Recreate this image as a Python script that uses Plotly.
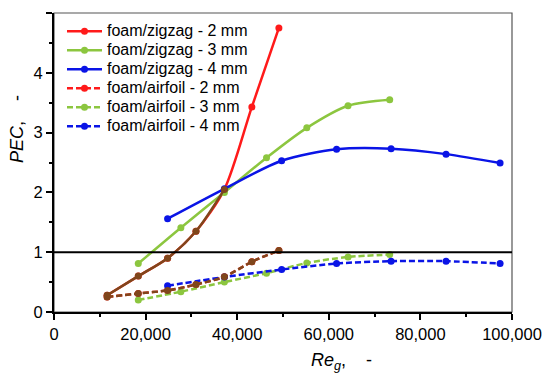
import plotly.graph_objects as go

# Data
re_2mm = [11600, 18400, 24800, 31000, 37200, 43200, 49100]
re_3mm = [18400, 27700, 37200, 46400, 55200, 64200, 73300]
re_4mm = [24800, 37200, 49700, 61700, 73600, 85600, 97400]

pec_zigzag_2mm = [0.28, 0.60, 0.90, 1.35, 2.05, 3.43, 4.75]
pec_zigzag_3mm = [0.81, 1.41, 2.00, 2.58, 3.08, 3.45, 3.55]
pec_zigzag_4mm = [1.56, 2.06, 2.53, 2.72, 2.73, 2.64, 2.49]
pec_airfoil_2mm = [0.25, 0.31, 0.36, 0.46, 0.59, 0.84, 1.03]
pec_airfoil_3mm = [0.20, 0.34, 0.50, 0.65, 0.82, 0.92, 0.96]
pec_airfoil_4mm = [0.44, 0.585, 0.71, 0.81, 0.85, 0.85, 0.81]

labels = ["foam/zigzag - 2 mm", "foam/zigzag - 3 mm", "foam/zigzag - 4 mm",
          "foam/airfoil - 2 mm", "foam/airfoil - 3 mm", "foam/airfoil - 4 mm"]

RED = "#ff1a1a"
GREEN = "#8cc63f"
BLUE = "#0a14e6"
BROWN = "#80461b"
DASH = "6px,3px"

# page offset (body margin of the html page)
OFF = 8
# desired plot-area edges in window pixels
PL, PR, PT, PB = 54, 512, 13, 312
W, H = 550, 378

fig = go.Figure()

series = [
    (re_2mm, pec_zigzag_2mm, RED, "solid"),
    (re_3mm, pec_zigzag_3mm, GREEN, "solid"),
    (re_4mm, pec_zigzag_4mm, BLUE, "solid"),
    (re_2mm, pec_airfoil_2mm, RED, DASH),
    (re_3mm, pec_airfoil_3mm, GREEN, DASH),
    (re_4mm, pec_airfoil_4mm, BLUE, DASH),
]

LW = 2.5
MS = 7
for (x, y, c, d), name in zip(series, labels):
    fig.add_trace(go.Scatter(
        x=x, y=y, name='<span style="font-size:16px">' + name + "</span>",
        mode="lines+markers",
        line=dict(color=c, width=LW, dash=d, shape="spline", smoothing=0.8),
        marker=dict(color=c, size=MS),
    ))

# brownish overlap appearance of the 2 mm series in the low region
fig.add_trace(go.Scatter(
    x=re_2mm[:5], y=pec_zigzag_2mm[:5], mode="lines+markers", showlegend=False,
    line=dict(color=BROWN, width=LW, shape="spline", smoothing=0.8),
    marker=dict(color=BROWN, size=MS),
))
fig.add_trace(go.Scatter(
    x=re_2mm, y=pec_airfoil_2mm, mode="lines+markers", showlegend=False,
    line=dict(color=BROWN, width=LW, dash=DASH, shape="spline", smoothing=0.8),
    marker=dict(color=BROWN, size=MS),
))

fig.add_shape(type="rect", xref="paper", yref="paper", x0=0, x1=1, y0=0, y1=1,
              line=dict(color="#555555", width=1.2), layer="below")
fig.add_shape(type="line", xref="paper", yref="y", x0=0, x1=1, y0=1, y1=1,
              line=dict(color="black", width=2))

FONT = "Liberation Sans, Arial, sans-serif"

def px2x(px):
    return (px - PL) / (PR - PL)

def py2y(py):
    return (PB - py) / (PB - PT)

fig.add_annotation(xref="paper", yref="paper", x=px2x(17), y=py2y(129),
                   xanchor="center", yanchor="middle",
                   text="<i>PEC</i>,\u00a0\u00a0\u00a0\u00a0-", textangle=-90, showarrow=False,
                   font=dict(family=FONT, size=18, color="black"))
fig.add_annotation(xref="paper", yref="paper", x=px2x(341), y=py2y(361),
                   xanchor="center", yanchor="middle",
                   text="<i>Re<sub>g</sub></i>,\u00a0\u00a0\u00a0\u00a0-", showarrow=False,
                   font=dict(family=FONT, size=18, color="black"))

fig.update_layout(
    width=W, height=H, autosize=False,
    margin=dict(l=PL - OFF, r=W - PR + OFF, t=PT - OFF, b=H - PB + OFF, autoexpand=False),
    paper_bgcolor="white", plot_bgcolor="white",
    font=dict(family=FONT, color="black"),
    showlegend=True,
    legend=dict(x=px2x(62), y=py2y(16.7), xanchor="left", yanchor="top",
                bgcolor="rgba(0,0,0,0)", font=dict(family=FONT, size=12, color="black"),
                itemwidth=35, tracegroupgap=0),
    xaxis=dict(range=[0, 100000], tickvals=[0, 20000, 40000, 60000, 80000, 100000],
               tickformat=",d", showgrid=False, zeroline=False, automargin=False,
               showline=True, linecolor="black", linewidth=2,
               ticks="outside", ticklen=6, tickwidth=1.5, tickcolor="black",
               tickfont=dict(family=FONT, size=16.5, color="black"),
               minor=dict(tickvals=[10000, 30000, 50000, 70000, 90000],
                          ticks="outside", ticklen=3, tickwidth=1.5, tickcolor="black")),
    yaxis=dict(range=[0, 5], tickvals=[0, 1, 2, 3, 4, 5], showgrid=False, zeroline=False,
               automargin=False,
               showline=True, linecolor="black", linewidth=2,
               ticks="outside", ticklen=6, tickwidth=1.5, tickcolor="black",
               tickfont=dict(family=FONT, size=16.5, color="black"),
               minor=dict(tickvals=[0.5, 1.5, 2.5, 3.5, 4.5],
                          ticks="outside", ticklen=3, tickwidth=1.5, tickcolor="black")),
)

fig.write_html("out.html")
